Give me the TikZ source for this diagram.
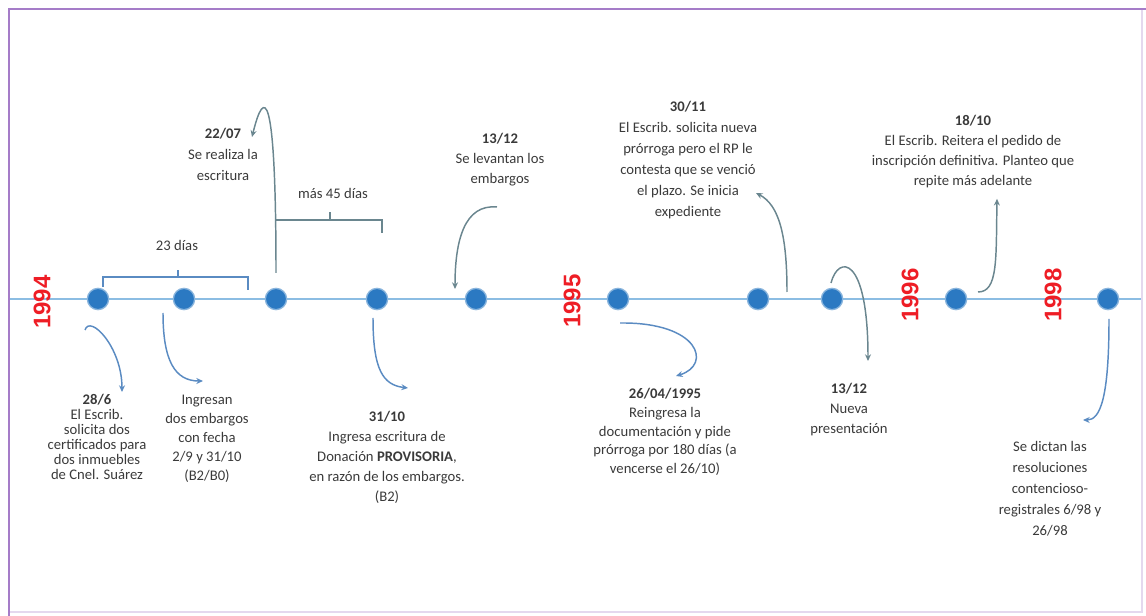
\documentclass[tikz,border=0pt]{standalone}
\usepackage{fontspec}
\setmainfont{Carlito}
\newfontfamily\yearfont{Liberation Sans}
\usepackage{tikz}
\usetikzlibrary{positioning}
\usetikzlibrary{calc}
\usetikzlibrary{arrows.meta}
\usepackage{xcolor}
\definecolor{lineblue}{HTML}{8CBDE3}
\definecolor{dotblue}{HTML}{2B79C2}
\definecolor{arrowblue}{HTML}{5A8BC2}
\definecolor{arrowgray}{HTML}{6A868F}
\definecolor{yearred}{HTML}{EE1D25}
\definecolor{txtgray}{HTML}{3A3A3A}
\definecolor{framepurple}{HTML}{A57CC8}
\tikzset{
	every node/.style={align=center, text=txtgray, inner sep=1pt},
	point/.style = {circle, fill=dotblue, draw=dotblue!55!white, line width=1pt, minimum size=16pt, inner sep=0pt, node contents={}},
	year/.style = {rotate=90, text=yearred, font=\yearfont\bfseries\fontsize{18}{18}\selectfont},
	evt/.style = {anchor=north, font=\fontsize{11}{#1}\selectfont},
	evt/.default = 15,
	link/.style = {-{Stealth[length=5pt,width=4.5pt]}, draw=arrowblue, line width=1.1pt},
	linkgray/.style = {link, draw=arrowgray},
	span/.style = {draw=arrowblue, line width=1pt},
	spangray/.style = {draw=arrowgray, line width=1pt},
	axis/.style = {draw=lineblue, line width=2.2pt}
}
\begin{document}
\begin{tikzpicture}[x=0.75pt, y=-0.75pt]
	\useasboundingbox (0,0) rectangle (1146,616);
	% Frame
	\draw[framepurple!30, line width=1.5pt] (1142,9) -- (1142,612) -- (9,612);
	\draw[framepurple, line width=2pt] (9,616) -- (9,9) -- (1146,9);
	
	% Timeline
	\coordinate (tl0) at (10,299);
	\coordinate (tl1) at (1141,299);
	\draw[axis] (tl0) -- (tl1);
	
	\node (d1) at (98,299) [point];
	\node (d2) at (184,299) [point];
	\node (d3) at (276,299) [point];
	\node (d4) at (377,299) [point];
	\node (d5) at (476,299) [point];
	\node (d6) at (618,299) [point];
	\node (d7) at (758,299) [point];
	\node (d8) at (832,299) [point];
	\node (d9) at (956,299) [point];
	\node (d10) at (1108,299) [point];
	
	% Years
	\node (y94) at (42,302) [year] {1994};
	\node (y95) at (572,301) [year] {1995};
	\node (y96) at (910,295) [year] {1996};
	\node (y98) at (1053,295) [year] {1998};
	
	% Events below
	\node (t1) at (97,393) [evt=11.25] {\textbf{28/6}\\El Escrib.\\solicita dos\\certificados para\\dos inmuebles\\de Cnel. Suárez};
	\node (t2) at (207,393) [evt=14.25] {Ingresan\\dos embargos\\con fecha\\2/9 y 31/10\\(B2/B0)};
	\node (t3) at (387,410) [evt] {\textbf{31/10}\\Ingresa escritura de\\Donación \textbf{PROVISORIA},\\en razón de los embargos.\\(B2)};
	\node (t8) at (665,387) [evt=14] {\textbf{26/04/1995}\\Reingresa la\\documentación y pide\\prórroga por 180 días (a\\vencerse el 26/10)};
	\node (t9) at (849,382) [evt] {\textbf{13/12}\\Nueva\\presentación};
	\node (t10) at (1050,440) [evt=15.75] {Se dictan las\\resoluciones\\contencioso-\\registrales 6/98 y\\26/98};
	
	% Events above
	\node (t4) at (223,127) [evt=15.75] {\textbf{22/07}\\Se realiza la\\escritura};
	\node (t5) at (500,132) [evt] {\textbf{13/12}\\Se levantan los\\embargos};
	\node (t6) at (688,100) [evt=15.75] {\textbf{30/11}\\El Escrib. solicita nueva\\prórroga pero el RP le\\contesta que se venció\\el plazo. Se inicia\\expediente};
	\node (t7) at (973,114) [evt] {\textbf{18/10}\\El Escrib. Reitera el pedido de\\inscripción definitiva. Planteo que\\repite más adelante};
	
	% Spans
	\node (lab23) at (177,245) [font=\fontsize{11}{12}\selectfont] {23 días};
	\draw[span] (103,287) -- (103,277) -- (248,277) -- (248,290);
	\draw[span] (178,277) -- (178,270);
	\node (lab45) at (333,193) [font=\fontsize{11}{12}\selectfont] {más 45 días};
	\draw[spangray] (276,220) -- (382,220) -- (382,233);
	\draw[spangray] (330,220) -- (330,212);
	
	% Links
	\draw[link] ($(d1)+(-13,31)$) .. controls +(5,-16) and +(0,-45) .. ($(t1.north)+(25,-1)$);
	\draw[link] ($(d2)+(-21,14)$) .. controls +(0,48) and +(-28,0) .. ($(t2.north)+(-4,-12)$);
	\draw[link] ($(d4)+(-4,19)$) .. controls +(0,52) and +(-25,-3) .. ($(t3.north)+(21,-22)$);
	\draw[linkgray] ($(d3)+(0,-26)$) .. controls +(0,-188) and +(12,-49) .. ($(t4.north)+(29,10)$);
	\draw[linkgray] ($(t5.north)+(-3,75)$) .. controls +(-32,-3) and +(0,-50) .. ($(d5)+(-21,-10)$);
	\draw[linkgray] ($(d7)+(29,-7)$) .. controls +(0,-57) and +(23,12) .. ($(t6.north)+(68,93)$);
	\draw[link] ($(d6)+(2,24)$) .. controls +(80,-1) and +(36,-11) .. ($(t8.north)+(11,-11)$);
	\draw[linkgray] ($(d8)+(-1,-16)$) .. controls +(7,-28) and +(0,-107) .. ($(t9.north)+(19,-21)$);
	\draw[linkgray] ($(d9)+(22,-7)$) .. controls +(20,0) and +(-1,61) .. ($(t7.south)+(24,9)$);
	\draw[link] ($(d10)+(1,20)$) .. controls +(0,80) and +(17,0) .. ($(t10.north)+(33,-20)$);
\end{tikzpicture}
\end{document}
